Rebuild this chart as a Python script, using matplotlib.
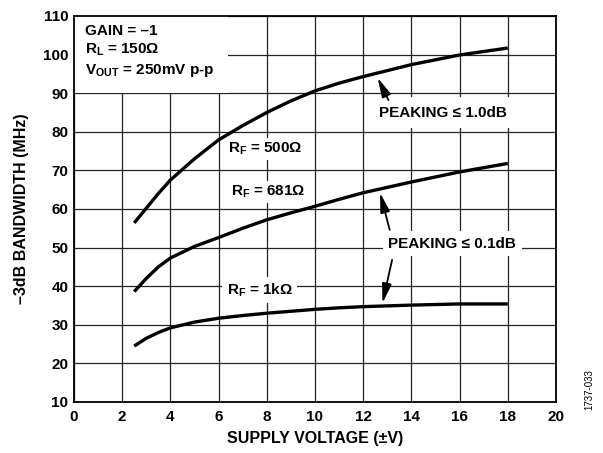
import numpy as np
import matplotlib
matplotlib.use('Agg')
import matplotlib.pyplot as plt

plt.rcParams['font.family'] = ['Liberation Sans', 'DejaVu Sans']
plt.rcParams['font.weight'] = 'bold'
plt.rcParams['mathtext.fontset'] = 'custom'
plt.rcParams['mathtext.rm'] = 'Liberation Sans:bold'
plt.rcParams['mathtext.bf'] = 'Liberation Sans:bold'
plt.rcParams['mathtext.it'] = 'Liberation Sans:bold'

# supply voltage (±V)
v = [2.5, 3, 3.5, 4, 5, 6, 7, 8, 9, 10, 11, 12, 14, 16, 18]
# -3dB bandwidth (MHz)
bw_500 = [56.4, 60.2, 64.0, 67.5, 73.0, 77.9, 81.6, 85.0, 88.0, 90.6, 92.6, 94.3, 97.4, 99.9, 101.7]
bw_681 = [38.6, 42.0, 45.0, 47.3, 50.3, 52.6, 55.0, 57.2, 59.0, 60.7, 62.5, 64.2, 67.0, 69.6, 71.8]
bw_1k = [24.5, 26.5, 28.0, 29.2, 30.7, 31.7, 32.4, 33.0, 33.5, 34.0, 34.4, 34.7, 35.1, 35.4, 35.4]

xticks = np.arange(0, 21, 2)
yticks = np.arange(10, 111, 10)

fig = plt.figure(figsize=(6.03, 4.53), dpi=100)
ax = fig.add_axes([0.1227, 0.1126, 0.7993, 0.8521])

for bw in (bw_500, bw_681, bw_1k):
    ax.plot(v, bw, color='black', lw=2.4, solid_capstyle='butt', zorder=3)

ax.set_xlim(0, 20)
ax.set_ylim(10, 110)
ax.set_xticks(xticks)
ax.set_yticks(yticks)
ax.grid(True, color='#222222', lw=0.9, zorder=0)
ax.set_axisbelow(True)
ax.tick_params(axis='x', length=0, labelsize=11, pad=6)
ax.tick_params(axis='y', length=0, labelsize=11, pad=4)
for s in ax.spines.values():
    s.set_linewidth(1.3)

ax.set_xlabel('SUPPLY VOLTAGE (±V)', fontsize=11.5, fontweight='bold', labelpad=5)
ax.set_ylabel('–3dB BANDWIDTH (MHz)', fontsize=11.5, fontweight='bold', labelpad=10)

box = dict(facecolor='white', edgecolor='none', pad=2)

ax.text(0.45, 107.8, 'GAIN = –1\n$\\mathbf{R_L}$ = 150Ω\n$\\mathbf{V_{OUT}}$ = 250mV p-p',
        fontsize=11, fontweight='bold', va='top', ha='left', linespacing=1.3,
        bbox=dict(facecolor='white', edgecolor='none', pad=10), zorder=2)

ax.text(7.93, 75.5, '$\\mathbf{R_F}$ = 500Ω', fontsize=11, ha='center', va='center', bbox=box, zorder=2)
ax.text(8.05, 64.4, '$\\mathbf{R_F}$ = 681Ω', fontsize=11, ha='center', va='center', bbox=box, zorder=2)
ax.text(7.7, 39.0, '$\\mathbf{R_F}$ = 1kΩ', fontsize=11, ha='center', va='center',
        bbox=dict(facecolor='white', edgecolor='none', pad=3), zorder=2)

arrow = dict(arrowstyle='-|>,head_width=0.22,head_length=0.9', color='black', lw=1.3,
             mutation_scale=13, shrinkA=0, shrinkB=0)
ax.text(15.3, 84.9, 'PEAKING ≤ 1.0dB', fontsize=11, ha='center', va='center',
        bbox=dict(facecolor='white', edgecolor='none', pad=6), zorder=2)
ax.annotate('', xy=(12.6, 94.0), xytext=(13.05, 88.2), arrowprops=arrow, zorder=4)

ax.text(15.7, 51.0, 'PEAKING ≤ 0.1dB', fontsize=11, ha='center', va='center',
        bbox=dict(facecolor='white', edgecolor='none', pad=4), zorder=2)
ax.annotate('', xy=(12.7, 64.2), xytext=(13.1, 54.6), arrowprops=arrow, zorder=4)
ax.annotate('', xy=(12.8, 35.6), xytext=(13.2, 46.8), arrowprops=arrow, zorder=4)

fig.text(0.978, 0.095, '1737-033', rotation=90, fontsize=7, fontweight='normal',
         ha='center', va='bottom')

fig.savefig('out.png', dpi=100)
